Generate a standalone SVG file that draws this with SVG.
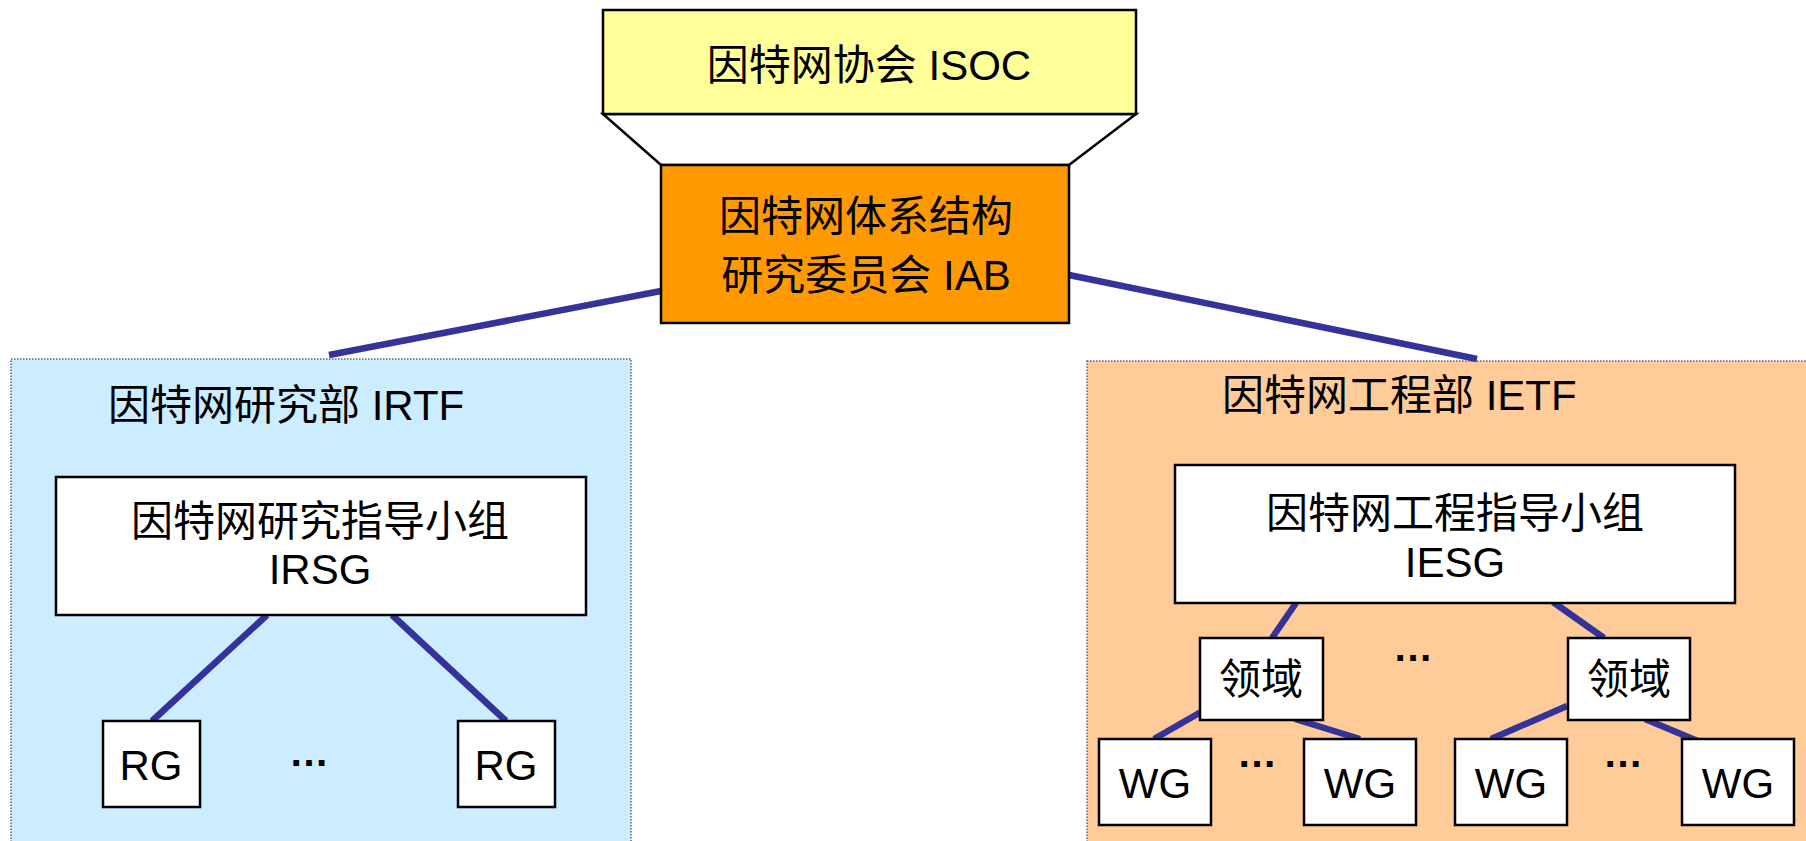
<svg xmlns="http://www.w3.org/2000/svg" width="1806" height="841" viewBox="0 0 1806 841">
<style>
text{font-family:"Liberation Sans","Noto Sans CJK SC",sans-serif;font-size:42px;fill:#000}
.m{text-anchor:middle}
.box{fill:#fff;stroke:#000;stroke-width:2.5}
.con{stroke:#333399;stroke-width:6.5;fill:none}
.area{stroke:#666;stroke-width:1.5;stroke-dasharray:1.5 1.5}
.dots{font-weight:bold;font-size:40px}
</style>
<rect width="1806" height="841" fill="#fff"/>
<g id="irtf">
<rect class="area" x="11" y="359" width="620" height="490" fill="#CCECFF"/>
<text x="108" y="420" font-size="41.5">因特网研究部 IRTF</text>
</g>
<g id="ietf">
<rect class="area" x="1087" y="361" width="730" height="490" fill="#FFCC99"/>
<text x="1222" y="410" font-size="41.5">因特网工程部 IETF</text>
</g>
<g id="connectors">
<polygon points="603,114 1136,114 1069,165 661,165" fill="#fff" stroke="#000" stroke-width="2.5"/>
<line class="con" x1="661" y1="291" x2="329" y2="355"/>
<line class="con" x1="1069" y1="275" x2="1477" y2="359"/>
<line class="con" x1="267" y1="615" x2="152" y2="721"/>
<line class="con" x1="392" y1="615" x2="506" y2="721"/>
<line class="con" x1="1296" y1="603" x2="1272" y2="638"/>
<line class="con" x1="1553" y1="602" x2="1604" y2="638"/>
<line class="con" x1="1201" y1="712" x2="1154" y2="739"/>
<line class="con" x1="1295" y1="719" x2="1360" y2="739"/>
<line class="con" x1="1567" y1="706" x2="1491" y2="739"/>
<line class="con" x1="1645" y1="719" x2="1700" y2="742"/>
</g>
<g id="isoc">
<rect x="603" y="10" width="533" height="104" fill="#FFFF99" stroke="#000" stroke-width="2.5"/>
<text class="m" x="869" y="80" font-size="42.5">因特网协会 ISOC</text>
</g>
<g id="iab">
<rect x="661" y="165" width="408" height="158" fill="#FF9900" stroke="#000" stroke-width="2.5"/>
<text class="m" x="866" y="231">因特网体系结构</text>
<text class="m" x="866" y="290">研究委员会 IAB</text>
</g>
<g id="irsg">
<rect class="box" x="56" y="477" width="530" height="138"/>
<text class="m" x="320" y="536">因特网研究指导小组</text>
<text class="m" x="320" y="584">IRSG</text>
</g>
<g id="rg1">
<rect class="box" x="103" y="721" width="97" height="86"/>
<text class="m" x="151" y="780" font-size="40">RG</text>
</g>
<text class="dots m" x="309" y="766">…</text>
<g id="rg2">
<rect class="box" x="458" y="721" width="97" height="86"/>
<text class="m" x="506" y="780" font-size="40">RG</text>
</g>
<g id="iesg">
<rect class="box" x="1175" y="465" width="560" height="138"/>
<text class="m" x="1455" y="528">因特网工程指导小组</text>
<text class="m" x="1455" y="577">IESG</text>
</g>
<g id="area1">
<rect class="box" x="1200" y="638" width="123" height="82"/>
<text class="m" x="1261" y="694">领域</text>
</g>
<text class="dots m" x="1413" y="661">…</text>
<g id="area2">
<rect class="box" x="1568" y="638" width="122" height="82"/>
<text class="m" x="1629" y="694">领域</text>
</g>
<g id="wg1">
<rect class="box" x="1099" y="739" width="112" height="86"/>
<text class="m" x="1155" y="798" font-size="40">WG</text>
</g>
<text class="dots m" x="1257" y="767">…</text>
<g id="wg2">
<rect class="box" x="1304" y="739" width="112" height="86"/>
<text class="m" x="1360" y="798" font-size="40">WG</text>
</g>
<g id="wg3">
<rect class="box" x="1455" y="739" width="112" height="86"/>
<text class="m" x="1511" y="798" font-size="40">WG</text>
</g>
<text class="dots m" x="1623" y="767">…</text>
<g id="wg4">
<rect class="box" x="1682" y="739" width="112" height="86"/>
<text class="m" x="1738" y="798" font-size="40">WG</text>
</g>
</svg>
